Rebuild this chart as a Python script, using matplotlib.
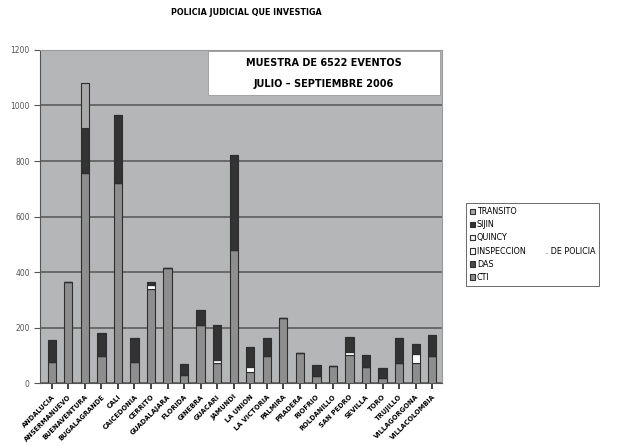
import numpy as np
import matplotlib
matplotlib.use('Agg')
import matplotlib.pyplot as plt
from matplotlib.patches import Rectangle

# data
municipios = ['ANDALUCIA', 'ANSERMANUEVO', 'BUENAVENTURA', 'BUGALAGRANDE', 'CALI',
              'CAICEDONIA', 'CERRITO', 'GUADALAJARA', 'FLORIDA', 'GINEBRA',
              'GUACARI', 'JAMUNDI', 'LA UNION', 'LA VICTORIA', 'PALMIRA',
              'PRADERA', 'RIOFRIO', 'ROLDANILLO', 'SAN PEDRO', 'SEVILLA',
              'TORO', 'TRUJILLO', 'VILLAGORGONA', 'VILLACOLOMBIA']

cti =        [77, 365, 757, 97, 720, 76, 338, 415, 28, 209, 71, 479,
              41, 97, 236, 109, 26, 61, 101, 59, 17, 71, 71, 97]
das =        [0] * 24
inspeccion = [0, 0, 0, 0, 0, 0, 17, 0, 0, 0, 12, 0,
              18, 0, 0, 0, 0, 0, 12, 0, 0, 0, 33, 0]
quincy =     [0] * 24
sijin =      [78, 0, 161, 84, 245, 86, 10, 0, 42, 56, 126, 341,
              72, 64, 0, 0, 39, 0, 54, 42, 36, 93, 36, 76]
transito =   [0, 0, 162, 0, 0, 0, 0, 0, 0, 0, 0, 0,
              0, 0, 0, 0, 0, 0, 0, 0, 0, 0, 0, 0]

series = [('CTI', cti, '#8e8e8e'),
          ('DAS', das, '#4a4a4a'),
          ('INSPECCION        . DE POLICIA', inspeccion, '#ffffff'),
          ('QUINCY', quincy, '#f2f2f2'),
          ('SIJIN', sijin, '#333333'),
          ('TRANSITO', transito, '#a8a8a8')]

fig = plt.figure(figsize=(6.28, 4.46), dpi=100)
ax = fig.add_axes([0.064, 0.141, 0.64, 0.747])
ax.set_facecolor('#b4b6b8')

x = np.arange(len(municipios))
bottom = np.zeros(len(municipios))
handles = []
for name, vals, col in series:
    vals = np.array(vals, dtype=float)
    b = ax.bar(x, vals, 0.5, bottom=bottom, color=col, edgecolor='#2e2e2e',
               linewidth=0.8, label=name, zorder=3)
    handles.append(b)
    bottom += vals

ax.set_ylim(0, 1200)
ax.set_xlim(-0.7, len(municipios) - 0.4)
ax.set_yticks(np.arange(0, 1201, 200))
ax.yaxis.grid(True, color='#555555', linewidth=1.1, zorder=1)
ax.set_axisbelow(True)
ax.tick_params(axis='y', labelsize=5.5, colors='#555555', length=4)
ax.tick_params(axis='x', length=4, width=1.2, color='#222222')
ax.set_xticks(x)
ax.set_xticklabels(municipios, rotation=45, ha='right', fontsize=4.8,
                   fontweight='heavy', rotation_mode='anchor')
for s in ['top', 'right']:
    ax.spines[s].set_color('#9a9a9a')
ax.spines['left'].set_color('#555555')
ax.spines['bottom'].set_color('#555555')

# text box inside the plot
ax.add_patch(Rectangle((0.418, 0.864), 0.577, 0.133, transform=ax.transAxes,
                       facecolor='white', edgecolor='#999999', lw=0.6, zorder=5))
ax.text(0.706, 0.961, 'MUESTRA DE 6522 EVENTOS', transform=ax.transAxes,
        ha='center', va='center', fontsize=7, fontweight='bold', zorder=6)
ax.text(0.706, 0.898, 'JULIO \u2013 SEPTIEMBRE 2006', transform=ax.transAxes,
        ha='center', va='center', fontsize=7, fontweight='bold', zorder=6)

fig.text(0.393, 0.971, 'POLICIA JUDICIAL QUE INVESTIGA', ha='center', va='center',
         fontsize=5.8, fontweight='heavy')

leg = fig.legend(handles[::-1], [s[0] for s in series][::-1],
                 loc='upper left', bbox_to_anchor=(0.735, 0.553),
                 fontsize=5.8, frameon=True, fancybox=False, handlelength=0.7,
                 handleheight=0.7, handletextpad=0.2, labelspacing=0.5,
                 borderpad=0.5)
leg.get_frame().set_edgecolor('#444444')
leg.get_frame().set_linewidth(0.7)

fig.savefig('out.png', dpi=100)
